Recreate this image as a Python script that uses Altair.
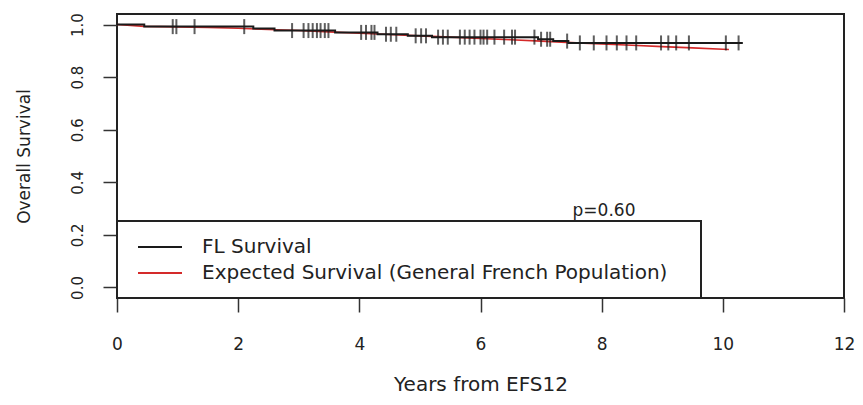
import altair as alt
import pandas as pd

# Kaplan-Meier estimate (FL Survival): step times and survival after each step
km_time = [0.0, 0.45, 2.25, 2.6, 3.6, 4.3, 4.8, 5.2, 6.95, 7.2, 7.45, 10.33]
km_surv = [1.0, 0.992, 0.985, 0.977, 0.970, 0.963, 0.957, 0.952, 0.944, 0.937, 0.930, 0.930]

# censoring times (+ marks)
censor_time = [0.92, 0.98, 1.28, 2.10, 2.89,
               3.08, 3.16, 3.23, 3.30, 3.36, 3.43, 3.49,
               4.03, 4.11, 4.20, 4.25, 4.44, 4.52, 4.61,
               4.93, 5.02, 5.10, 5.30, 5.38, 5.46,
               5.66, 5.74, 5.82, 5.90, 6.00, 6.05, 6.11, 6.23,
               6.39, 6.52, 6.57, 6.89, 7.00, 7.10, 7.15,
               7.43, 7.64, 7.87, 8.08, 8.25, 8.41, 8.57,
               8.98, 9.10, 9.23, 9.44, 10.05, 10.26]

# Expected survival of the general French population
exp_time = [0.0, 0.45, 1.0, 1.5, 2.0, 2.5, 3.0, 3.5, 4.0, 4.5, 5.0, 5.5, 6.0,
            6.5, 7.0, 7.5, 8.0, 8.5, 9.0, 9.5, 10.0, 10.1]
exp_surv = [1.0, 0.993, 0.991, 0.989, 0.986, 0.981, 0.977, 0.972, 0.967, 0.962,
            0.957, 0.952, 0.947, 0.942, 0.937, 0.931, 0.926, 0.921, 0.916, 0.911,
            0.906, 0.905]

x_ticks = [0, 2, 4, 6, 8, 10, 12]
y_ticks = [0.0, 0.2, 0.4, 0.6, 0.8, 1.0]
legend_labels = ["FL Survival", "Expected Survival (General French Population)"]
legend_colors = ["#1a1a1a", "#d42a2a"]
p_label = "p=0.60"


def km_at(t):
    s = km_surv[0]
    for tt, ss in zip(km_time, km_surv):
        if tt <= t:
            s = ss
    return s


km_df = pd.DataFrame({"t": km_time, "s": km_surv})
cen_df = pd.DataFrame({"t": censor_time, "s": [km_at(t) for t in censor_time]})
exp_df = pd.DataFrame({"t": exp_time, "s": exp_surv})

FONT = "DejaVu Sans"
TXT = "#222222"

xscale = alt.Scale(domain=[0, 12], nice=False, zero=False)
yscale = alt.Scale(domain=[-0.04, 1.04], nice=False, zero=False)

xaxis = alt.Axis(values=x_ticks, title="Years from EFS12", grid=False, domain=False,
                 tickSize=14, tickWidth=1.5, tickColor="#333333",
                 labelFontSize=17, labelFont=FONT, labelColor=TXT, labelPadding=24,
                 titleFont=FONT, titleFontSize=20, titleFontWeight="normal",
                 titleColor=TXT, titlePadding=22, format="d", labelFlush=False)
yaxis = alt.Axis(values=y_ticks, title="Overall Survival", grid=False, domain=False,
                 tickSize=14, tickWidth=1.5, tickColor="#333333",
                 labelFontSize=15, labelFont=FONT, labelColor=TXT, labelAngle=270,
                 labelAlign="center", labelBaseline="bottom", labelPadding=18,
                 titleFont=FONT, titleFontSize=17, titleFontWeight="normal",
                 titleColor=TXT, titlePadding=37, format=".1f", labelFlush=False)

exp_line = alt.Chart(exp_df).mark_line(color=legend_colors[1], strokeWidth=1.6).encode(
    x=alt.X("t:Q", scale=xscale, axis=xaxis),
    y=alt.Y("s:Q", scale=yscale, axis=yaxis),
)

km_line = alt.Chart(km_df).mark_line(color=legend_colors[0], strokeWidth=2,
                                     interpolate="step-after").encode(
    x=alt.X("t:Q", scale=xscale),
    y=alt.Y("s:Q", scale=yscale),
)

cen_ticks = alt.Chart(cen_df).mark_tick(color=legend_colors[0], orient="vertical",
                                        size=15, thickness=2).encode(
    x=alt.X("t:Q", scale=xscale),
    y=alt.Y("s:Q", scale=yscale),
)

leg_df = pd.DataFrame({"label": legend_labels, "color": legend_colors,
                       "ypix": [233, 259]})

leg_box = alt.Chart(pd.DataFrame({"a": [0]})).mark_rect(
    fill="white", stroke="#222222", strokeWidth=2).encode(
    x=alt.value(0), x2=alt.value(584), y=alt.value(207), y2=alt.value(284))

leg_lines = alt.Chart(leg_df).mark_rule(strokeWidth=2).encode(
    x=alt.value(21), x2=alt.value(65), y=alt.Y("ypix:Q", scale=None),
    color=alt.Color("color:N", scale=None))

leg_text = alt.Chart(leg_df).mark_text(align="left", baseline="middle", font=FONT,
                                       fontSize=20, color=TXT).encode(
    x=alt.value(85), y=alt.Y("ypix:Q", scale=None), text="label:N")

p_text = alt.Chart(pd.DataFrame({"label": [p_label]})).mark_text(
    align="center", baseline="middle", font=FONT, fontSize=17, color=TXT).encode(
    x=alt.value(487), y=alt.value(197), text="label:N")

chart = alt.layer(exp_line, km_line, cen_ticks, leg_box, leg_lines, leg_text, p_text).properties(
    width=727, height=284,
    background="white",
    autosize=alt.AutoSizeParams(type="none"),
    padding={"left": 109, "top": 6, "right": 11, "bottom": 97},
).configure_view(stroke="#222222", strokeWidth=2)

chart.save("out.html", embed_options={"renderer": "svg", "actions": False})
